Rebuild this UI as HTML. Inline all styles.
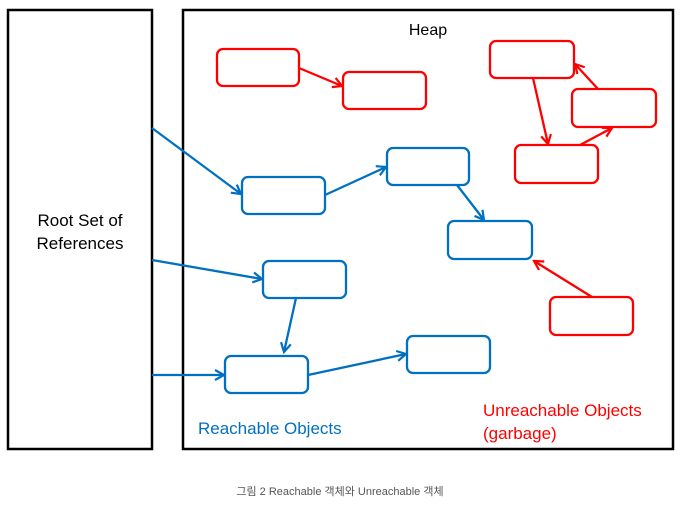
<!DOCTYPE html>
<html><head><style>
html,body{margin:0;padding:0;background:#fff;}
svg text{font-family:"Liberation Sans","Noto Sans CJK KR",sans-serif;}
</style></head><body>
<svg width="697" height="505" viewBox="0 0 697 505" xmlns="http://www.w3.org/2000/svg">
<defs>
<marker id="ab" markerWidth="12" markerHeight="12" refX="10" refY="6" orient="auto" markerUnits="userSpaceOnUse"><path d="M1,1 L10,6 L1,11" fill="none" stroke="#0070c0" stroke-width="2.2"/></marker>
<marker id="ar" markerWidth="12" markerHeight="12" refX="10" refY="6" orient="auto" markerUnits="userSpaceOnUse"><path d="M1,1 L10,6 L1,11" fill="none" stroke="#ff0000" stroke-width="2.2"/></marker>
</defs>
<rect x="8" y="10" width="144" height="439" fill="none" stroke="#000" stroke-width="2.5"/>
<rect x="183" y="10" width="490" height="439" fill="none" stroke="#000" stroke-width="2.5"/>
<text x="80" y="226" font-size="17" text-anchor="middle">Root Set of</text>
<text x="80" y="249" font-size="17" text-anchor="middle">References</text>
<text x="428" y="35" font-size="16" text-anchor="middle">Heap</text>
<g fill="none" stroke="#0070c0" stroke-width="2.3">
<rect x="242" y="177" width="83" height="37" rx="6"/>
<rect x="387" y="148" width="82" height="37" rx="6"/>
<rect x="448" y="221" width="84" height="38" rx="6"/>
<rect x="263" y="261" width="83" height="37" rx="6"/>
<rect x="225" y="356" width="83" height="37" rx="6"/>
<rect x="407" y="336" width="83" height="37" rx="6"/>
<line x1="152" y1="128" x2="241" y2="194" marker-end="url(#ab)"/>
<line x1="325" y1="195" x2="386" y2="167" marker-end="url(#ab)"/>
<line x1="457" y1="185" x2="484" y2="220" marker-end="url(#ab)"/>
<line x1="152" y1="260" x2="262" y2="279" marker-end="url(#ab)"/>
<line x1="296" y1="298" x2="284" y2="352" marker-end="url(#ab)"/>
<line x1="152" y1="375" x2="224" y2="375" marker-end="url(#ab)"/>
<line x1="308" y1="375" x2="406" y2="354" marker-end="url(#ab)"/>
</g>
<g fill="none" stroke="#ff0000" stroke-width="2.3">
<rect x="217" y="49" width="82" height="37" rx="6"/>
<rect x="343" y="72" width="83" height="37" rx="6"/>
<rect x="490" y="41" width="84" height="37" rx="6"/>
<rect x="572" y="89" width="84" height="38" rx="6"/>
<rect x="515" y="145" width="83" height="38" rx="6"/>
<rect x="550" y="297" width="83" height="38" rx="6"/>
<line x1="299" y1="68" x2="342" y2="86" marker-end="url(#ar)"/>
<line x1="598" y1="89" x2="575" y2="64" marker-end="url(#ar)"/>
<line x1="533" y1="78" x2="548" y2="144" marker-end="url(#ar)"/>
<line x1="580" y1="145" x2="612" y2="128" marker-end="url(#ar)"/>
<line x1="592" y1="297" x2="534" y2="261" marker-end="url(#ar)"/>
</g>
<text x="198" y="434" font-size="17" fill="#0070c0">Reachable Objects</text>
<text x="483" y="416" font-size="17" fill="#ff0000">Unreachable Objects</text>
<text x="483" y="439" font-size="17" fill="#ff0000">(garbage)</text>
<text x="340" y="495" font-size="11" fill="#555" text-anchor="middle">그림 2 Reachable 객체와 Unreachable 객체</text>
</svg>
</body></html>
